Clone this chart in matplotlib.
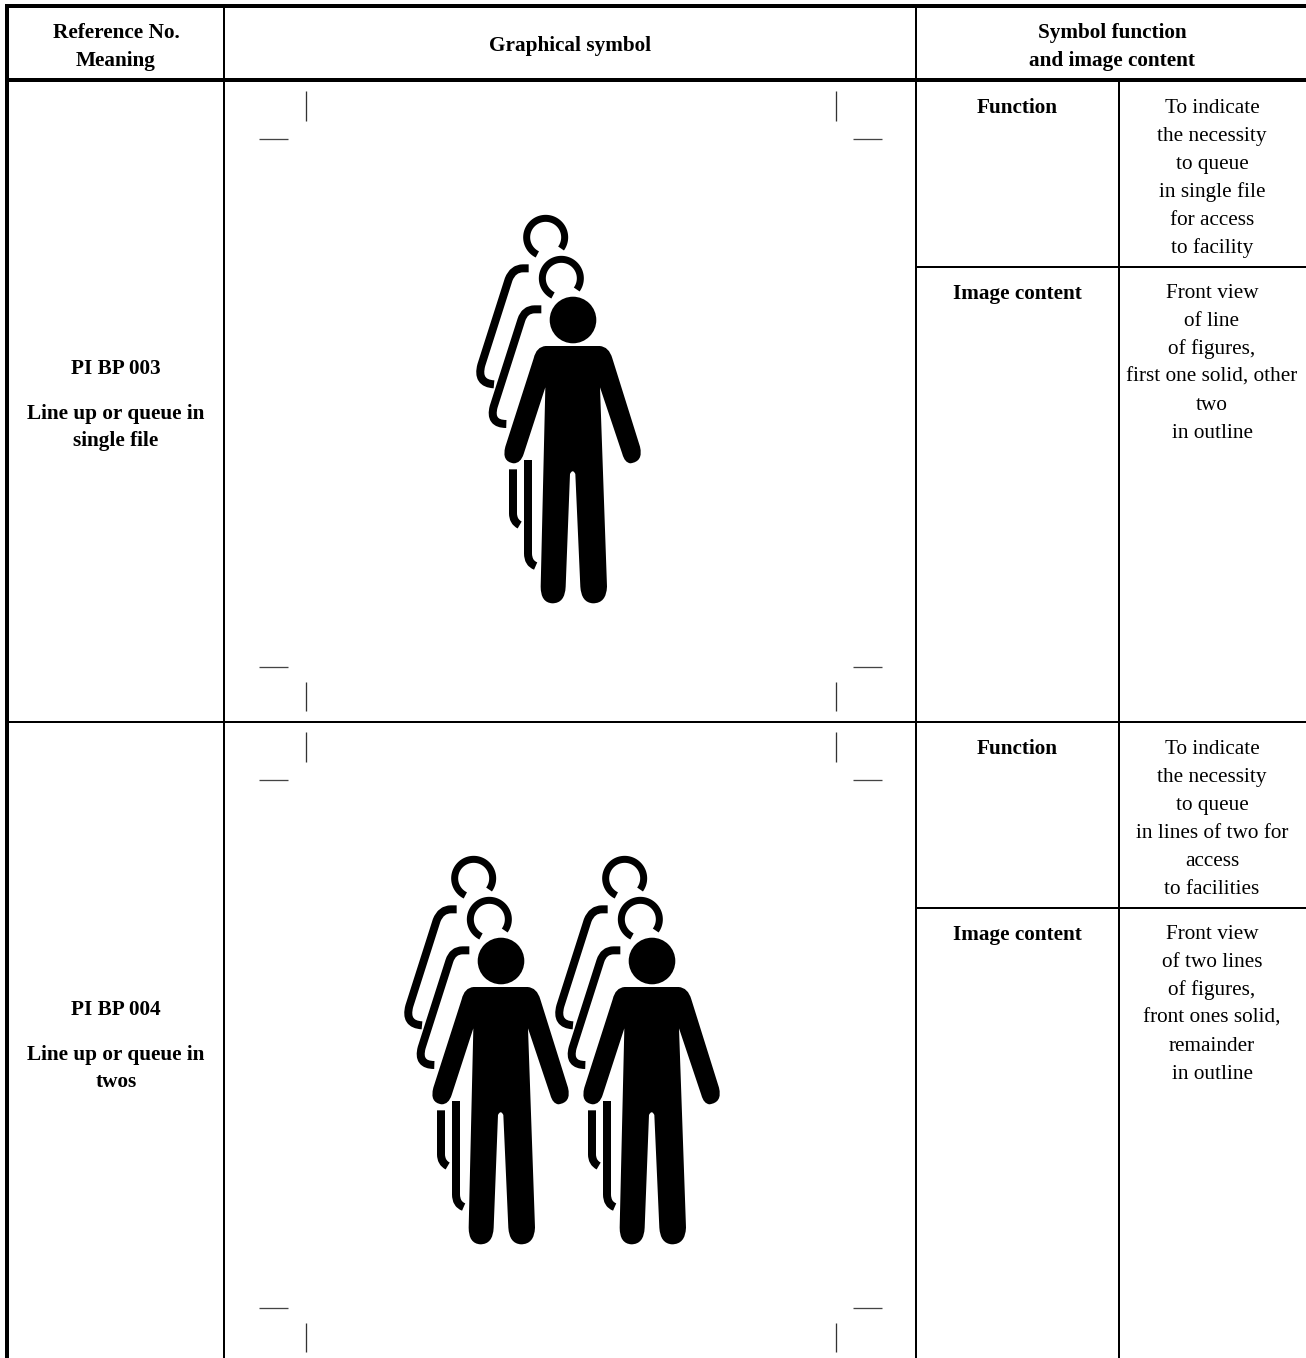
import numpy as np
import matplotlib
matplotlib.use("Agg")
import matplotlib.pyplot as plt
from matplotlib.path import Path
from matplotlib.patches import PathPatch, Circle

W, H = 1306, 1358

# table text: (x, baseline y, text)
header_labels = [(116, 38, "Reference No."), (116, 66, "Meaning"), (570, 51, "Graphical symbol"),
                 (1112, 38, "Symbol function"), (1112, 66, "and image content")]
ref_numbers = ["PI BP 003", "PI BP 004"]
meanings = [["Line up or queue in", "single file"], ["Line up or queue in", "twos"]]
function_text = [
    ["To indicate", "the necessity", "to queue", "in single file", "for access", "to facility"],
    ["To indicate", "the necessity", "to queue", "in lines of two for", "access", "to facilities"],
]
content_text = [
    ["Front view", "of line", "of figures,", "first one solid, other", "two", "in outline"],
    ["Front view", "of two lines", "of figures,", "front ones solid,", "remainder", "in outline"],
]
row_offsets = [0, 641]
# head centres of the solid figures in each row
figure_heads = [[(573, 320)], [(501, 961), (652, 961)]]

M, L, Q = Path.MOVETO, Path.LINETO, Path.CURVE3

# pictogram outlines, traced in 3x units with the solid head at (340, 360)
body_shape = [
    (M, (258, 438)), (L, (420, 438)), (Q, (448, 440)), (Q, (458, 475)), (L, (541, 740)),
    (Q, (552, 785)), (Q, (512, 790)), (Q, (495, 788)), (Q, (488, 762)), (L, (421, 562)),
    (L, (442, 1160)), (Q, (440, 1210)), (Q, (400, 1210)), (Q, (365, 1208)), (Q, (362, 1160)),
    (L, (347, 822)), (Q, (339, 805)), (Q, (331, 822)), (L, (318, 1160)), (Q, (316, 1210)),
    (Q, (278, 1210)), (Q, (243, 1208)), (Q, (243, 1160)), (L, (257, 562)), (L, (192, 762)),
    (Q, (183, 790)), (Q, (162, 790)), (Q, (125, 785)), (Q, (137, 740)), (L, (222, 475)),
    (Q, (230, 440)), (Q, (258, 438)),
]
ghost_strokes = [
    [(M, (207, 205)), (L, (190, 205)), (Q, (160, 205)), (Q, (147, 238)), (L, (65, 495)),
     (Q, (50, 550)), (Q, (103, 553))],
    [(M, (245, 328)), (L, (225, 328)), (Q, (195, 328)), (Q, (185, 360)), (L, (102, 620)),
     (Q, (88, 672)), (Q, (140, 672))],
    [(M, (205, 780)), (L, (205, 1060)), (Q, (205, 1090)), (Q, (228, 1098))],
    [(M, (160, 808)), (L, (160, 940)), (Q, (160, 965)), (Q, (180, 975))],
]
ghost_heads = [(258, 112), (305, 235)]

plt.rcParams["font.family"] = ["Liberation Serif", "DejaVu Serif"]
fig = plt.figure(figsize=(W / 100, H / 100), dpi=100)
ax = fig.add_axes([0, 0, 1, 1])
ax.set_xlim(0, W)
ax.set_ylim(H, 0)
ax.axis("off")


def px(width):
    return width * 72 / 100


def rule(x0, y0, x1, y1, width, color="black"):
    ax.plot([x0, x1], [y0, y1], color=color, lw=px(width), solid_capstyle="butt")


def label(x, y, text, bold=False):
    ax.text(x, y, text, ha="center", va="baseline", fontsize=15.3,
            fontweight="bold" if bold else "normal", color="black")


def to_page(pt, head):
    return head[0] + (pt[0] - 340) / 3, head[1] + (pt[1] - 360) / 3


def shape_path(shape, head):
    return Path([to_page(p, head) for _, p in shape], [c for c, _ in shape])


def draw_figure(head):
    for g in ghost_strokes:
        ax.add_patch(PathPatch(shape_path(g, head), fc="none", ec="black",
                               lw=px(8), capstyle="butt", joinstyle="round"))
    for g in ghost_heads:
        # open ring, gap at the lower right
        t = np.radians(np.linspace(116, 396, 80))
        ring = [to_page((g[0] + 57 * np.cos(a), g[1] + 57 * np.sin(a)), head) for a in t]
        ax.plot(*zip(*ring), color="black", lw=px(7), solid_capstyle="butt")
    ax.add_patch(Circle(head, 23.3, fc="black", ec="none"))
    ax.add_patch(PathPatch(shape_path(body_shape, head), fc="black", ec="none"))


# table lines
rule(5, 6, W, 6, 4)
rule(5, 80, W, 80, 4)
rule(7, 4, 7, H, 4)
rule(224, 6, 224, H, 2)
rule(916, 6, 916, H, 2)
rule(1119, 80, 1119, H, 2)
rule(5, 721.5, W, 721.5, 2)
for off in row_offsets:
    rule(916, 266.5 + off, W, 266.5 + off, 2)

for x, y, t in header_labels:
    label(x, y, t, bold=True)

for i, off in enumerate(row_offsets):
    label(116, 374 + off, ref_numbers[i], bold=True)
    for j, t in enumerate(meanings[i]):
        label(116, 419 + off + j * 27, t, bold=True)
    label(1017, 113 + off, "Function", bold=True)
    label(1017, 299 + off, "Image content", bold=True)
    for j, t in enumerate(function_text[i]):
        label(1212, 113 + off + j * 28, t)
    for j, t in enumerate(content_text[i]):
        label(1212, 298 + off + j * 28, t)

    # crop marks round the symbol
    for x in (305.5, 835.5):
        rule(x, 91 + off, x, 120.5 + off, 1.3, "#333333")
        rule(x, 682 + off, x, 711 + off, 1.3, "#333333")
    for x0 in (259, 853):
        rule(x0, 139 + off, x0 + 29, 139 + off, 1.3, "#444444")
        rule(x0, 667 + off, x0 + 29, 667 + off, 1.3, "#444444")

    for head in figure_heads[i]:
        draw_figure(head)

fig.savefig("out.png", dpi=100)
